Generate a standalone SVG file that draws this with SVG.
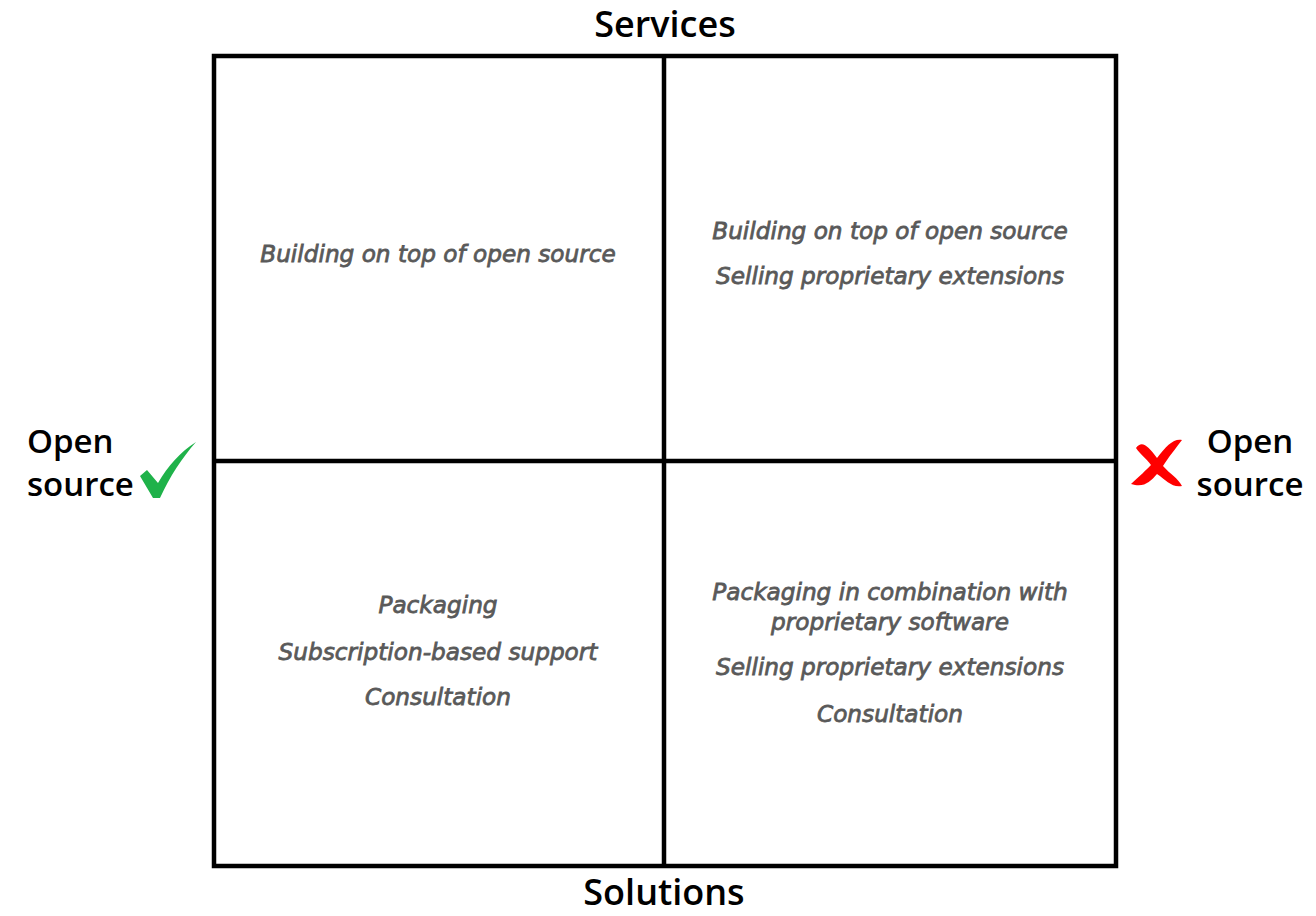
<svg xmlns="http://www.w3.org/2000/svg" width="1316" height="916" viewBox="0 0 1316 916">
<style>
.head{font-family:"Open Sans","Liberation Sans",sans-serif;font-weight:600;font-size:36px;fill:#000}
.side{font-family:"Open Sans","Liberation Sans",sans-serif;font-weight:600;font-size:33px;fill:#000}
.q{font-family:"DejaVu Sans","Liberation Sans",sans-serif;font-style:italic;font-size:23.2px;fill:#595959;stroke:#595959;stroke-width:0.8;text-anchor:middle}
.grid{fill:none;stroke:#000;stroke-width:4.5}
</style>
<rect width="1316" height="916" fill="#fff"/>
<g id="connectors">
<rect class="grid" x="214" y="56" width="902" height="810"/>
<line class="grid" x1="664" y1="56" x2="664" y2="866"/>
<line class="grid" x1="214" y1="461" x2="1116" y2="461"/>
</g>
<g id="axis-top"><text class="head" x="665" y="37" text-anchor="middle">Services</text></g>
<g id="axis-bottom"><text class="head" x="664" y="905" text-anchor="middle">Solutions</text></g>
<g id="axis-left">
<text class="side" x="27" y="453">Open</text>
<text class="side" x="27" y="496">source</text>
<path d="M140,476 L147,470 L158,483 C168,466 180,452 196,442 C182,458 170,476 160,498 L153,498 Z" fill="#1fb24a"/>
</g>
<g id="axis-right">
<text class="side" x="1250" y="453" text-anchor="middle">Open</text>
<text class="side" x="1250" y="496" text-anchor="middle">source</text>
<path d="M1136,448 C1142,440 1148,446 1157,458 C1166,446 1174,438 1182,440 C1176,448 1168,458 1163,466 C1170,474 1178,478 1182,486 C1172,488 1166,480 1157,474 C1150,482 1144,488 1131,484 C1140,476 1146,470 1151,465 C1146,458 1140,454 1136,448 Z" fill="#ff0000"/>
</g>
<g id="q-top-left">
<text class="q" x="438" y="262">Building on top of open source</text>
</g>
<g id="q-top-right">
<text class="q" x="890" y="239">Building on top of open source</text>
<text class="q" x="890" y="284">Selling proprietary extensions</text>
</g>
<g id="q-bottom-left">
<text class="q" x="438" y="613">Packaging</text>
<text class="q" x="438" y="660">Subscription-based support</text>
<text class="q" x="438" y="705">Consultation</text>
</g>
<g id="q-bottom-right">
<text class="q" x="890" y="600">Packaging in combination with</text>
<text class="q" x="890" y="630">proprietary software</text>
<text class="q" x="890" y="675">Selling proprietary extensions</text>
<text class="q" x="890" y="722">Consultation</text>
</g>
</svg>
